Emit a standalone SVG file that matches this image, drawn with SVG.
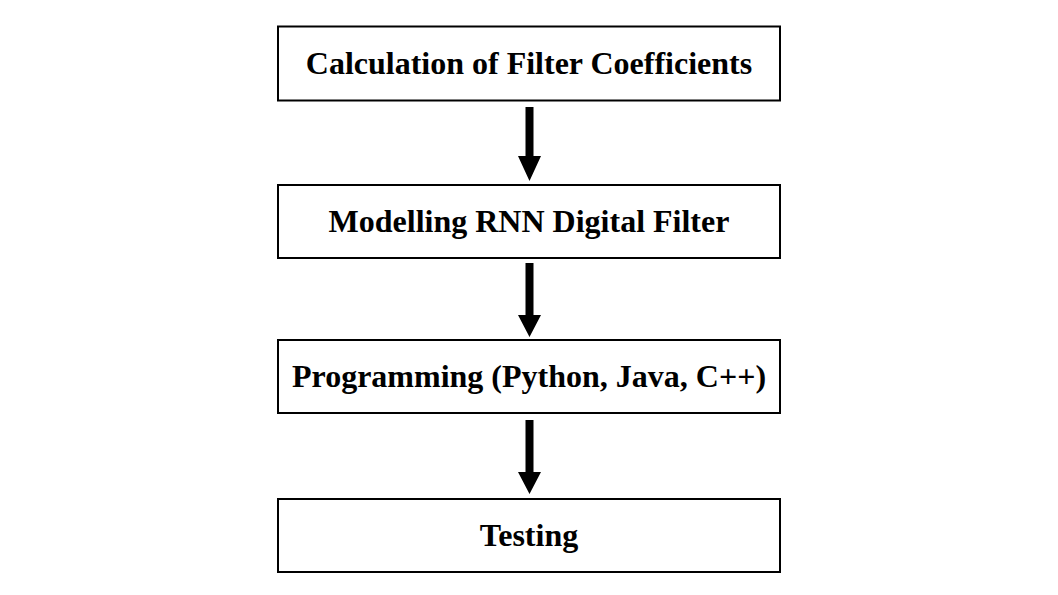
<svg xmlns="http://www.w3.org/2000/svg" width="1058" height="595" viewBox="0 0 1058 595">
<style>
.box{fill:#fff;stroke:#000;stroke-width:2}
.lbl{font-family:"Liberation Serif","Times New Roman",serif;font-weight:bold;font-size:32px;fill:#000;text-anchor:middle}
.shaft{fill:#000}
</style>
<rect width="1058" height="595" fill="#fff"/>
<g id="n1"><rect class="box" x="278" y="26.5" width="502" height="74"/><text class="lbl" x="529" y="74">Calculation of Filter Coefficients</text></g>
<g id="n2"><rect class="box" x="278" y="185" width="502" height="73"/><text class="lbl" x="529" y="232">Modelling RNN Digital Filter</text></g>
<g id="n3"><rect class="box" x="278" y="340" width="502" height="73"/><text class="lbl" x="529" y="387">Programming (Python, Java, C++)</text></g>
<g id="n4"><rect class="box" x="278" y="499" width="502" height="73"/><text class="lbl" x="529" y="546">Testing</text></g>
<g id="connectors">
<path class="shaft" d="M525.5 107 H533.5 V156 H541 L529.5 181 L518 156 H525.5 Z"/>
<path class="shaft" d="M525.5 263 H533.5 V315 H541 L529.5 337 L518 315 H525.5 Z"/>
<path class="shaft" d="M525.5 420 H533.5 V472 H541 L529.5 494 L518 472 H525.5 Z"/>
</g>
</svg>
